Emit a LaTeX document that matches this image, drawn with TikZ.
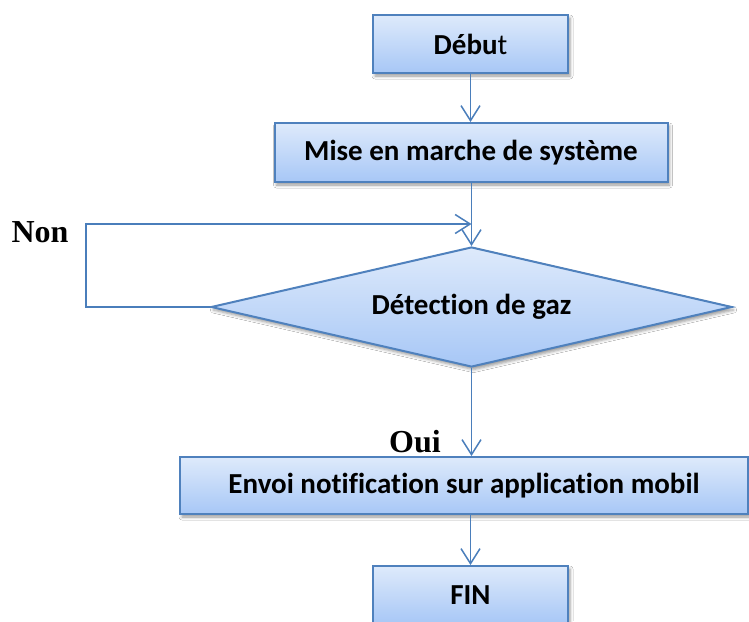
\documentclass[tikz,border=0pt]{standalone}
\usepackage{fontspec}
\setmainfont{Carlito}[Ligatures=NoCommon]
\newfontfamily\labelfont{Liberation Serif}
\usetikzlibrary{arrows.meta,shapes.geometric,shadows.blur}

\definecolor{edgeblue}{RGB}{79,129,189}
\definecolor{lineblue}{RGB}{74,126,187}
\definecolor{filltop}{RGB}{222,234,251}
\definecolor{fillbottom}{RGB}{167,199,246}

\begin{document}
\begin{tikzpicture}[x=1pt,y=-1pt,
  box/.style={draw=edgeblue, line width=2pt, top color=filltop, bottom color=fillbottom,
    blur shadow={shadow xshift=2pt, shadow yshift=-3pt, shadow blur radius=3pt, shadow opacity=40},
    font=\fontsize{29}{33}\selectfont\bfseries, inner sep=0pt},
  conn/.style={draw=lineblue, line width=1.5pt,
    -{Straight Barb[length=15pt,width=19pt,line width=1.5pt]}},
  answer/.style={font=\labelfont\bfseries\fontsize{32}{36}\selectfont, inner sep=0pt}]

  % page area
  \path[fill=white, use as bounding box] (0,0) rectangle (749,621);

  % steps of the flowchart
  \node[box, minimum width=195pt, minimum height=58pt] (debut) at (470.5,44) {Débu{\mdseries t}};
  \node[box, minimum width=393pt, minimum height=59pt] (mise) at (471,152.5) {Mise en marche de système};
  \node[box, shape=diamond, aspect=4.34, minimum width=521pt, minimum height=120pt] (dec) at (471.5,307) {Détection de gaz};
  \node[box, minimum width=568pt, minimum height=57pt] (env) at (464,485.5) {Envoi notification sur application mobil};
  \node[box, minimum width=195pt, minimum height=58pt] (fin) at (470.5,595) {FIN};

  % branch labels
  \node[answer, anchor=base] (non) at (40,242) {Non};
  \node[answer, anchor=base east] (oui) at (441,452) {Oui};

  % connectors
  \draw[conn] (debut.south) -- (debut.south |- mise.north);
  \draw[conn] (mise.south -| dec.north) -- (dec.north);
  \coordinate (loop) at (86,224);
  \draw[conn] (dec.west) -| (loop) -- (loop -| dec.north);
  \draw[conn] (dec.south) -- (dec.south |- env.north);
  \draw[conn] (env.south -| fin.north) -- (fin.north);
\end{tikzpicture}
\end{document}
